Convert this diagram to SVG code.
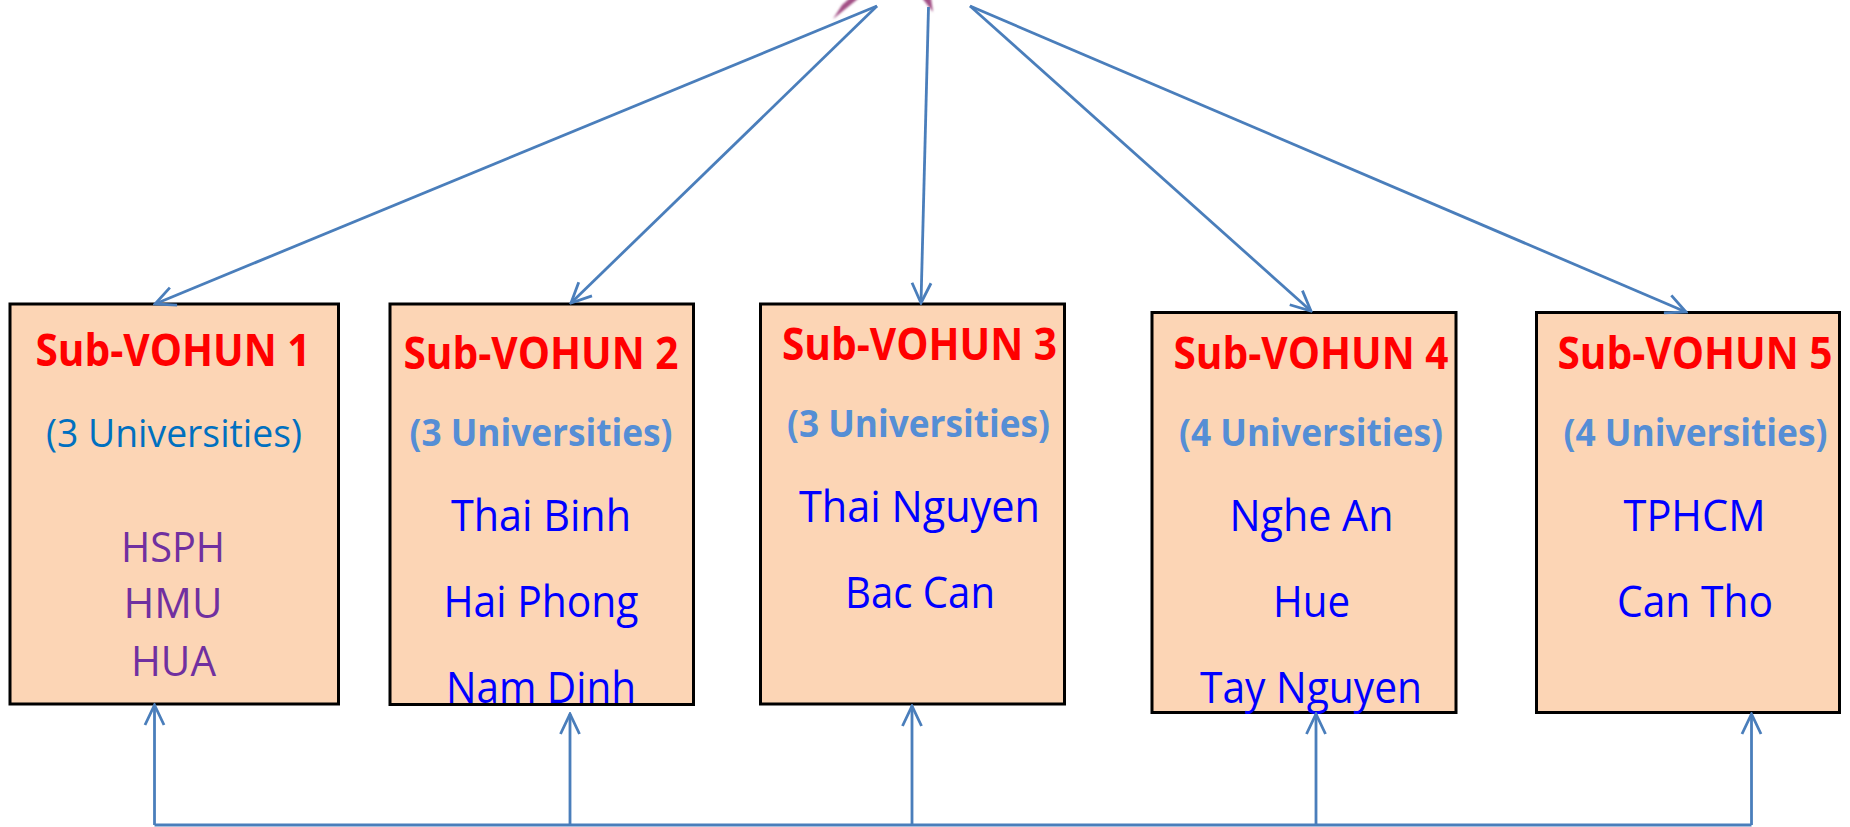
<svg xmlns="http://www.w3.org/2000/svg" width="1850" height="827" viewBox="0 0 1850 827">
<style>
.box{fill:#fcd5b5;stroke:#000;stroke-width:3}
text{font-family:"Open Sans","Liberation Sans",sans-serif;text-anchor:middle}
.t{font-size:44px;font-weight:700;fill:#ff0000}
.u{font-size:38px;font-weight:700;fill:#558ed5}
.u1{font-size:38px;fill:#0070c0}
.p{font-size:42px;fill:#7030a0}
.b{font-size:43px;fill:#0000ff}
.c{fill:none;stroke:#4a7ebb;stroke-width:2.8}
</style>
<defs>
<marker id="a" viewBox="-22 -12 24 24" refX="0" refY="0" markerWidth="24" markerHeight="24" markerUnits="userSpaceOnUse" orient="auto">
<path d="M-20,-9.500L0,0L-20,9.500" fill="none" stroke="#4a7ebb" stroke-width="2.8"/>
</marker>
<filter id="s" x="-30%" y="-30%" width="160%" height="160%"><feGaussianBlur stdDeviation="1"/></filter>
</defs>
<polygon points="833,19 842,5 850,-2 859,-2" fill="#a24f85" filter="url(#s)"/>
<polygon points="922,-2 931,-2 933,12" fill="#a24f85" filter="url(#s)"/>
<g id="node1">
<rect class="box" x="10" y="304" width="328.500" height="400"/>
<text class="t" x="173" y="366" textLength="275" lengthAdjust="spacingAndGlyphs">Sub-VOHUN 1</text>
<text class="u1" x="174" y="447" textLength="256" lengthAdjust="spacingAndGlyphs">(3 Universities)</text>
<text class="p" x="173" y="562" textLength="104" lengthAdjust="spacingAndGlyphs">HSPH</text>
<text class="p" x="173" y="618" textLength="99" lengthAdjust="spacingAndGlyphs">HMU</text>
<text class="p" x="173.500" y="676" textLength="85" lengthAdjust="spacingAndGlyphs">HUA</text>
</g>
<g id="node2">
<rect class="box" x="390" y="304" width="303.500" height="400.500"/>
<text class="t" x="541" y="369" textLength="275" lengthAdjust="spacingAndGlyphs">Sub-VOHUN 2</text>
<text class="u" x="541" y="446" textLength="263" lengthAdjust="spacingAndGlyphs">(3 Universities)</text>
<text class="b" x="541" y="531" textLength="180" lengthAdjust="spacingAndGlyphs">Thai Binh</text>
<text class="b" x="541" y="617" textLength="195" lengthAdjust="spacingAndGlyphs">Hai Phong</text>
<text class="b" x="541" y="703" textLength="190" lengthAdjust="spacingAndGlyphs">Nam Dinh</text>
</g>
<g id="node3">
<rect class="box" x="760.500" y="304" width="304" height="400"/>
<text class="t" x="919.500" y="360" textLength="275" lengthAdjust="spacingAndGlyphs">Sub-VOHUN 3</text>
<text class="u" x="918.500" y="437" textLength="263" lengthAdjust="spacingAndGlyphs">(3 Universities)</text>
<text class="b" x="919.500" y="522" textLength="241" lengthAdjust="spacingAndGlyphs">Thai Nguyen</text>
<text class="b" x="920" y="608" textLength="150" lengthAdjust="spacingAndGlyphs">Bac Can</text>
</g>
<g id="node4">
<rect class="box" x="1152" y="312.500" width="304" height="400"/>
<text class="t" x="1311" y="369" textLength="275" lengthAdjust="spacingAndGlyphs">Sub-VOHUN 4</text>
<text class="u" x="1311" y="446" textLength="264" lengthAdjust="spacingAndGlyphs">(4 Universities)</text>
<text class="b" x="1311.500" y="531" textLength="164" lengthAdjust="spacingAndGlyphs">Nghe An</text>
<text class="b" x="1311.500" y="617" textLength="77" lengthAdjust="spacingAndGlyphs">Hue</text>
<text class="b" x="1311" y="703" textLength="222" lengthAdjust="spacingAndGlyphs">Tay Nguyen</text>
</g>
<g id="node5">
<rect class="box" x="1536.500" y="312.500" width="303" height="400"/>
<text class="t" x="1695" y="369" textLength="275" lengthAdjust="spacingAndGlyphs">Sub-VOHUN 5</text>
<text class="u" x="1695.500" y="446" textLength="264" lengthAdjust="spacingAndGlyphs">(4 Universities)</text>
<text class="b" x="1694.500" y="531" textLength="142" lengthAdjust="spacingAndGlyphs">TPHCM</text>
<text class="b" x="1695" y="617" textLength="156" lengthAdjust="spacingAndGlyphs">Can Tho</text>
</g>
<g id="connectors" class="c">
<line class="c" x1="877" y1="6" x2="155" y2="304" marker-end="url(#a)"/>
<line class="c" x1="877" y1="6" x2="571" y2="303" marker-end="url(#a)"/>
<line class="c" x1="928.500" y1="7" x2="921" y2="303" marker-end="url(#a)"/>
<line class="c" x1="970" y1="6" x2="1311" y2="311" marker-end="url(#a)"/>
<line class="c" x1="970" y1="6" x2="1686" y2="312" marker-end="url(#a)"/>
<path class="c" d="M154.500,825H1751.500"/>
<line class="c" x1="154.500" y1="825" x2="154.500" y2="705" marker-end="url(#a)"/>
<line class="c" x1="570" y1="825" x2="570" y2="714" marker-end="url(#a)"/>
<line class="c" x1="912" y1="825" x2="912" y2="706" marker-end="url(#a)"/>
<line class="c" x1="1316" y1="825" x2="1316" y2="714" marker-end="url(#a)"/>
<line class="c" x1="1751.500" y1="825" x2="1751.500" y2="714" marker-end="url(#a)"/>
</g>
</svg>
